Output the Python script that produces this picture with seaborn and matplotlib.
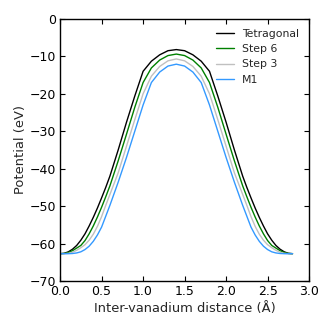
import matplotlib
matplotlib.use("Agg")
import matplotlib.pyplot as plt
import pandas as pd
import seaborn as sns

# -- Data -------------------------------------------------------------------
# finer steps near the flat ends, 0.1 steps through the middle
distance = [0.0, 0.05, 0.1, 0.15, 0.2, 0.25, 0.3, 0.35, 0.4, 0.45, 0.5, 0.55, 0.6,
            0.7, 0.8, 0.9, 1.0, 1.1, 1.2, 1.3, 1.4, 1.5, 1.6, 1.7, 1.8, 1.9, 2.0, 2.1,
            2.2, 2.25, 2.3, 2.35, 2.4, 2.45, 2.5, 2.55, 2.6, 2.65, 2.7, 2.75, 2.8]

tetragonal = [-62.7, -62.6, -62.2, -61.5, -60.5, -59.1, -57.4, -55.3, -53.0, -50.5, -47.8, -45.0, -42.0,
              -35.0, -27.6, -20.6, -14.0, -11.3, -9.6, -8.5, -8.2, -8.5, -9.6, -11.3, -14.0, -20.6, -27.6, -35.0,
              -42.0, -45.0, -47.8, -50.5, -53.0, -55.3, -57.4, -59.1, -60.5, -61.5, -62.2, -62.6, -62.7]
step6 = [-62.7, -62.65, -62.4, -61.9, -61.2, -60.5, -59.2, -57.4, -55.3, -52.9, -50.3, -47.5, -44.6,
         -37.9, -30.8, -23.6, -17.0, -13.1, -11.0, -9.8, -9.4, -9.8, -11.0, -13.1, -17.0, -23.6, -30.8, -37.9,
         -44.6, -47.5, -50.3, -52.9, -55.3, -57.4, -59.2, -60.5, -61.2, -61.9, -62.4, -62.65, -62.7]
step3 = [-62.7, -62.7, -62.6, -62.3, -61.8, -61.1, -60.3, -59.1, -57.5, -55.4, -52.8, -49.8, -46.9,
         -41.1, -34.0, -26.9, -20.0, -15.3, -12.7, -11.2, -10.7, -11.2, -12.7, -15.3, -20.0, -26.9, -34.0, -41.1,
         -46.9, -49.8, -52.8, -55.4, -57.5, -59.1, -60.3, -61.1, -61.8, -62.3, -62.6, -62.7, -62.7]
m1 = [-62.7, -62.7, -62.7, -62.65, -62.5, -62.2, -61.6, -60.7, -59.4, -57.7, -55.6, -52.7, -49.8,
      -43.6, -37.0, -30.0, -23.0, -17.0, -14.2, -12.6, -12.1, -12.6, -14.2, -17.0, -23.0, -30.0, -37.0, -43.6,
      -49.8, -52.7, -55.6, -57.7, -59.4, -60.7, -61.6, -62.2, -62.5, -62.65, -62.7, -62.7, -62.7]

series_names = ["Tetragonal", "Step 6", "Step 3", "M1"]
series_vals = [tetragonal, step6, step3, m1]
palette = {"Tetragonal": "black", "Step 6": "#008000", "Step 3": "#c0c0c0", "M1": "#3399ff"}

x_ticks = [0.0, 0.5, 1.0, 1.5, 2.0, 2.5, 3.0]
y_ticks = [-70, -60, -50, -40, -30, -20, -10, 0]

# long-form frame for seaborn
df = pd.concat(
    [pd.DataFrame({"distance": distance, "potential": v, "structure": n})
     for n, v in zip(series_names, series_vals)],
    ignore_index=True,
)

# -- Classic-looking style ---------------------------------------------------
sns.set_style("ticks")
plt.rcParams.update({
    "font.family": ["DejaVu Sans"],
    "font.size": 9,
    "axes.edgecolor": "black",
    "axes.linewidth": 1.0,
})

fig = plt.figure(figsize=(3.32, 3.31), dpi=100)
ax = fig.add_axes([0.181, 0.151, 0.750, 0.792])

sns.lineplot(data=df, x="distance", y="potential", hue="structure",
             hue_order=series_names, palette=palette, linewidth=1.0,
             sort=False, ax=ax)

ax.set_xlim(0.0, 3.0)
ax.set_ylim(-70, 0)
ax.set_xticks(x_ticks)
ax.set_yticks(y_ticks)
ax.set_xticklabels([f"{t:.1f}" for t in x_ticks])
ax.set_yticklabels([f"{t}".replace("-", "\u2212") for t in y_ticks])
ax.tick_params(direction="in", top=True, right=True, length=3.5, width=0.8,
               colors="black", labelsize=9, pad=3)
ax.set_xlabel("Inter-vanadium distance (\u00c5)", fontsize=9.4, labelpad=3)
ax.set_ylabel("Potential (eV)", fontsize=9.4, labelpad=2)

ax.legend(loc="upper right", frameon=False, fontsize=7.8,
          handlelength=1.6, labelspacing=0.5, title=None)

fig.savefig("out.png", dpi=100)
plt.close(fig)
